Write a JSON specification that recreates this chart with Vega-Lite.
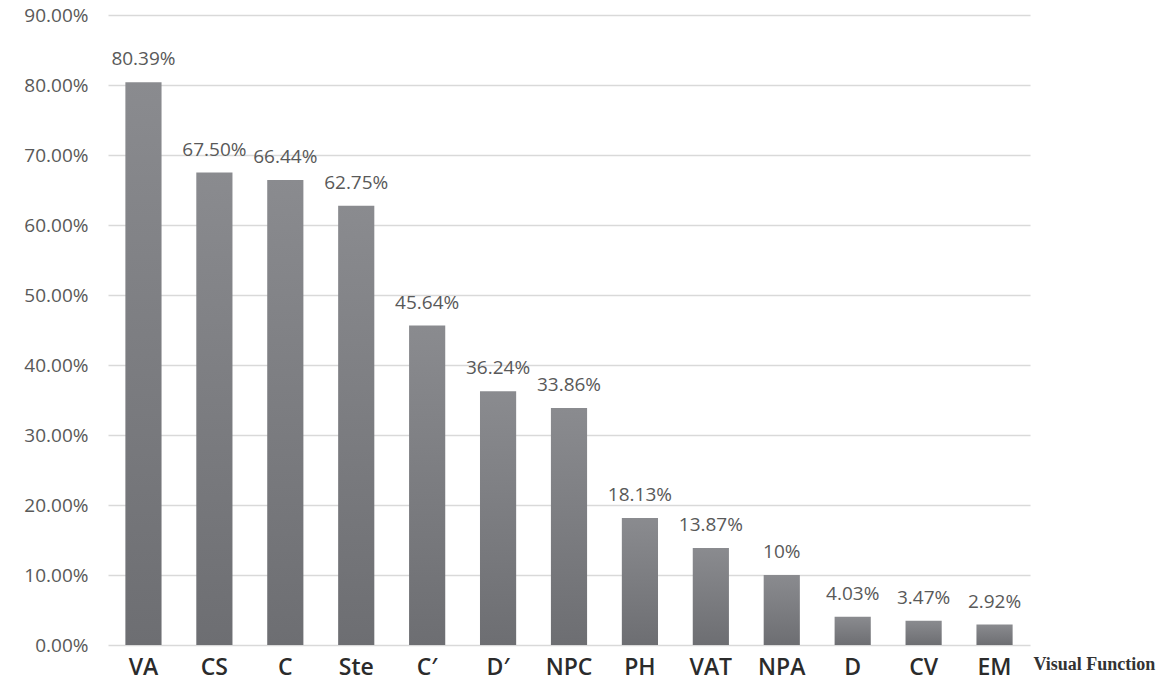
{
  "$schema": "https://vega.github.io/schema/vega-lite/v6.json",
  "width": 922,
  "height": 630,
  "autosize": {"type": "none"},
  "padding": {"left": 108, "top": 15, "right": 141, "bottom": 37},
  "background": "white",
  "data": {
    "values": [
      {"func": "VA", "value": 0.8039, "label": "80.39%"},
      {"func": "CS", "value": 0.6750, "label": "67.50%"},
      {"func": "C", "value": 0.6644, "label": "66.44%"},
      {"func": "Ste", "value": 0.6275, "label": "62.75%"},
      {"func": "C′", "value": 0.4564, "label": "45.64%"},
      {"func": "D′", "value": 0.3624, "label": "36.24%"},
      {"func": "NPC", "value": 0.3386, "label": "33.86%"},
      {"func": "PH", "value": 0.1813, "label": "18.13%"},
      {"func": "VAT", "value": 0.1387, "label": "13.87%"},
      {"func": "NPA", "value": 0.10, "label": "10%"},
      {"func": "D", "value": 0.0403, "label": "4.03%"},
      {"func": "CV", "value": 0.0347, "label": "3.47%"},
      {"func": "EM", "value": 0.0292, "label": "2.92%"}
    ]
  },
  "encoding": {
    "x": {
      "field": "func",
      "type": "nominal",
      "sort": null,
      "scale": {"paddingInner": 0.49, "paddingOuter": 0.245},
      "axis": {
        "title": "Visual Function",
        "titleFont": "Liberation Serif",
        "titleFontWeight": "bold",
        "titleFontSize": 18,
        "titleColor": "#333333",
        "titleAlign": "left",
        "titleBaseline": "middle",
        "titleAnchor": null,
        "titleX": 925,
        "titleY": 19,
        "labelAngle": 0,
        "labelFont": "Open Sans",
        "labelFontSize": 23,
        "labelFontWeight": 600,
        "labelColor": "#2b2b2b",
        "labelPadding": 11,
        "ticks": false,
        "domain": false,
        "grid": false
      }
    },
    "y": {
      "field": "value",
      "type": "quantitative",
      "scale": {"domain": [0, 0.9], "nice": false},
      "axis": {
        "title": null,
        "format": ".2%",
        "values": [0, 0.1, 0.2, 0.3, 0.4, 0.5, 0.6, 0.7, 0.8, 0.9],
        "labelFont": "Open Sans",
        "labelFontSize": 19,
        "labelColor": "#595959",
        "labelPadding": 20,
        "ticks": false,
        "domain": false,
        "grid": true,
        "gridColor": "#d9d9d9",
        "gridWidth": 1.5
      }
    }
  },
  "layer": [
    {
      "mark": {
        "type": "bar",
        "color": {
          "gradient": "linear",
          "x1": 0, "y1": 0, "x2": 0, "y2": 1,
          "stops": [
            {"offset": 0, "color": "#8a8b8f"},
            {"offset": 1, "color": "#6d6e72"}
          ]
        }
      }
    },
    {
      "mark": {
        "type": "text",
        "dy": -23,
        "baseline": "middle",
        "font": "Open Sans",
        "fontSize": 19,
        "color": "#595959"
      },
      "encoding": {"text": {"field": "label"}}
    }
  ],
  "config": {"view": {"stroke": null}}
}
